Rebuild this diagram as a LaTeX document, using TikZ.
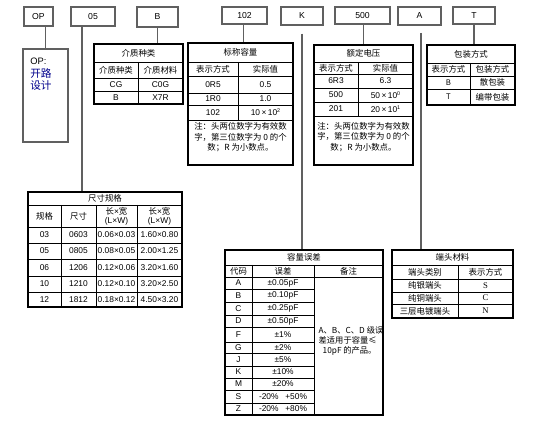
\documentclass[tikz,border=0pt]{standalone}
\usepackage{fontspec}
\setmainfont{Liberation Sans}
\newfontfamily\cjk{Noto Sans CJK SC}
\newfontfamily\serifr{Liberation Serif}
\usetikzlibrary{fit}
\newcommand\smallsup[1]{\raisebox{2.2pt}{\fontsize{4}{4}\selectfont #1}}
\begin{document}
\begin{tikzpicture}[x=0.75pt,y=-0.75pt,
  tf/.style={font=\fontsize{6.3}{7.9}\selectfont, inner sep=0pt},
  topbox/.style={draw=gray!75!black, line width=0.8pt, inner sep=0pt, font=\fontsize{6.5}{8}\selectfont},
  conn/.style={draw=gray!75!black, line width=0.9pt},
  tab/.style={draw=black, line width=0.9pt, inner sep=0pt},
  tl/.style={draw=black, line width=0.7pt},
  descbox/.style={draw=gray!75!black, line width=0.8pt, inner sep=0pt}]
\useasboundingbox (0,0) rectangle (539,427);
\fill[white] (0,0) rectangle (539,427);

% ---------- top code boxes ----------
\node[topbox, fit={(24,7)(53,26)}] (nOP) {};
\node[tf, font=\fontsize{6.5}{8}\selectfont] at (nOP.center) {OP};
\node[topbox, fit={(71,7)(115,26)}] (n05) {};
\node[tf, font=\fontsize{6.5}{8}\selectfont] at (n05.center) {05};
\node[topbox, fit={(137,7)(178,27)}] (nB) {};
\node[tf, font=\fontsize{6.5}{8}\selectfont] at (nB.center) {B};
\node[topbox, fit={(222,7)(267,24)}] (n102) {};
\node[tf, font=\fontsize{6.5}{8}\selectfont] at (n102.center) {102};
\node[topbox, fit={(281,7)(323,25)}] (nK) {};
\node[tf, font=\fontsize{6.5}{8}\selectfont] at (nK.center) {K};
\node[topbox, fit={(335,7)(390,24)}] (n500) {};
\node[tf, font=\fontsize{6.5}{8}\selectfont] at (n500.center) {500};
\node[topbox, fit={(398,7)(441,25)}] (nA) {};
\node[tf, font=\fontsize{6.5}{8}\selectfont] at (nA.center) {A};
\node[topbox, fit={(453,7)(495,24)}] (nT) {};
\node[tf, font=\fontsize{6.5}{8}\selectfont] at (nT.center) {T};

% ---------- OP description ----------
\node[descbox, fit={(23,49)(68,142)}] (opd) {};
\node[tf, anchor=west, font=\fontsize{7}{8}\selectfont] at (30,61) {OP:};
\node[tf, anchor=west, text=blue!55!black, font=\cjk\fontsize{8}{9}\selectfont] at (30,73.5) {开路};
\node[tf, anchor=west, text=blue!55!black, font=\cjk\fontsize{8}{9}\selectfont] at (30,85.5) {设计};

% ---------- tables (outer boxes) ----------
\node[tab, fit={(94,44)(183,104)}] (t1) {};
\node[tab, fit={(188,43)(293,165)}] (t2) {};
\node[tab, fit={(314,45)(413,165)}] (t3) {};
\node[tab, fit={(427,45)(515,105)}] (t4) {};
\node[tab, fit={(28,192)(182,307)}] (t5) {};
\node[tab, fit={(225,250)(383,415)}] (t6) {};
\node[tab, fit={(392,250)(513,318)}] (t7) {};

% ---------- connectors ----------
\coordinate (x05) at (82,0);
\coordinate (kstart) at ([yshift=-6pt]nK.south);
\coordinate (astart) at (421,33);
\draw[conn] (nOP.south -| opd.north) -- (opd.north);
\draw[conn] (n05.south -| x05) -- (t5.north -| x05);
\draw[conn] (nB.south) -- (nB.south |- t1.north);
\draw[conn] ([xshift=-1pt]n102.south) -- ([xshift=-1pt]n102.south |- t2.north);
\draw[conn] (kstart) -- (kstart |- t6.north);
\draw[conn] ([xshift=1pt]n500.south) -- ([xshift=1pt]n500.south |- t3.north);
\draw[conn] (astart) -- (astart |- t7.north);
\draw[conn] (nT.south) -- (nT.south |- t4.north);

% ---------- table 1: 介质种类 ----------
\foreach \y in {62,78,91} \draw[tl] (94,\y) -- (183,\y);
\draw[tl] (138,62) -- (138,104);
\node[tf, font=\cjk\fontsize{6.3}{7.9}\selectfont] at (138.5,53) {介质种类};
\node[tf, font=\cjk\fontsize{6.3}{7.9}\selectfont] at (116,70) {介质种类};
\node[tf, font=\cjk\fontsize{6.3}{7.9}\selectfont] at (160.5,70) {介质材料};
\node[tf] at (116,84.5) {CG};
\node[tf] at (160.5,84.5) {C0G};
\node[tf] at (116,97.5) {B};
\node[tf] at (160.5,97.5) {X7R};

% ---------- table 2: 标称容量 ----------
\foreach \y in {62,76,93,105,120} \draw[tl] (188,\y) -- (293,\y);
\draw[tl] (238,62) -- (238,120);
\node[tf, font=\cjk\fontsize{6.3}{7.9}\selectfont] at (240.5,52.5) {标称容量};
\node[tf, font=\cjk\fontsize{6.3}{7.9}\selectfont] at (213,69) {表示方式};
\node[tf, font=\cjk\fontsize{6.3}{7.9}\selectfont] at (265.5,69) {实际值};
\node[tf] at (213,84.5) {0R5};
\node[tf] at (265.5,84.5) {0.5};
\node[tf] at (213,99) {1R0};
\node[tf] at (265.5,99) {1.0};
\node[tf] at (213,112.5) {102};
\node[tf] at (265.5,112.5) {10\,×\,10\smallsup{2}};
\node[tf, align=center, font=\cjk\fontsize{6.3}{7.9}\selectfont] at (240.5,137.5)
  {注：头两位数字为有效数\\字，第三位数字为 0 的个\\数；R 为小数点。};

% ---------- table 3: 额定电压 ----------
\foreach \y in {62,74,88,102,116} \draw[tl] (314,\y) -- (413,\y);
\draw[tl] (358,62) -- (358,116);
\node[tf, font=\cjk\fontsize{6.3}{7.9}\selectfont] at (363.5,53.5) {额定电压};
\node[tf, font=\cjk\fontsize{6.3}{7.9}\selectfont] at (336,68) {表示方式};
\node[tf, font=\cjk\fontsize{6.3}{7.9}\selectfont] at (385.5,68) {实际值};
\node[tf] at (336,81) {6R3};
\node[tf] at (385.5,81) {6.3};
\node[tf] at (336,95) {500};
\node[tf] at (385.5,95) {50\,×\,10\smallsup{0}};
\node[tf] at (336,109) {201};
\node[tf] at (385.5,109) {20\,×\,10\smallsup{1}};
\node[tf, align=center, font=\cjk\fontsize{6.3}{7.9}\selectfont] at (363.5,137)
  {注：头两位数字为有效数\\字，第三位数字为 0 的个\\数；R 为小数点。};

% ---------- table 4: 包装方式 ----------
\foreach \y in {63,76,89} \draw[tl] (427,\y) -- (515,\y);
\draw[tl] (470,63) -- (470,105);
\node[tf, font=\cjk\fontsize{6.3}{7.9}\selectfont] at (471,54) {包装方式};
\node[tf, font=\cjk\fontsize{6.3}{7.9}\selectfont] at (448.5,69.5) {表示方式};
\node[tf, font=\cjk\fontsize{6.3}{7.9}\selectfont] at (492.5,69.5) {包装方式};
\node[tf, font=\cjk\fontsize{5.8}{7}\selectfont] at (448.5,82.5) {B};
\node[tf, font=\cjk\fontsize{6.3}{7.9}\selectfont] at (492.5,82.5) {散包装};
\node[tf, font=\cjk\fontsize{5.8}{7}\selectfont] at (448.5,97) {T};
\node[tf, font=\cjk\fontsize{6.3}{7.9}\selectfont] at (492.5,97) {编带包装};

% ---------- table 5: 尺寸规格 ----------
\foreach \y in {205,227,243,259,276,292} \draw[tl] (28,\y) -- (182,\y);
\foreach \x in {61,96,137} \draw[tl] (\x,205) -- (\x,307);
\node[tf, font=\cjk\fontsize{6.3}{7.9}\selectfont] at (105,198.5) {尺寸规格};
\node[tf, font=\cjk\fontsize{6.3}{7.9}\selectfont] at (44.5,216) {规格};
\node[tf, font=\cjk\fontsize{6.3}{7.9}\selectfont] at (78.5,216) {尺寸};
\node[tf, align=center, font=\fontsize{6.3}{7}\selectfont] at (116.5,216) {{\cjk 长}×{\cjk 宽}\\(L×W)};
\node[tf, align=center, font=\fontsize{6.3}{7}\selectfont] at (159.5,216) {{\cjk 长}×{\cjk 宽}\\(L×W)};
\foreach \y/\a/\b/\c/\d in {235/03/0603/0.06×0.03/1.60×0.80,
                            251/05/0805/0.08×0.05/2.00×1.25,
                            267.5/06/1206/0.12×0.06/3.20×1.60,
                            284/10/1210/0.12×0.10/3.20×2.50,
                            299.5/12/1812/0.18×0.12/4.50×3.20}{
  \node[tf] at (44.5,\y) {\a};
  \node[tf] at (78.5,\y) {\b};
  \node[tf] at (116.5,\y) {\c};
  \node[tf] at (159.5,\y) {\d};
}

% ---------- table 6: 容量误差 ----------
\draw[tl] (225,265) -- (383,265);
\draw[tl] (225,277) -- (383,277);
\foreach \y in {289,302,315,327,342,353,366,378,390,403} \draw[tl] (225,\y) -- (314,\y);
\draw[tl] (252,265) -- (252,415);
\draw[tl] (314,265) -- (314,415);
\node[tf, font=\cjk\fontsize{6.3}{7.9}\selectfont] at (304,257.5) {容量误差};
\node[tf, font=\cjk\fontsize{6.3}{7.9}\selectfont] at (238.5,271) {代码};
\node[tf, font=\cjk\fontsize{6.3}{7.9}\selectfont] at (283,271) {误差};
\node[tf, font=\cjk\fontsize{6.3}{7.9}\selectfont] at (348.5,271) {备注};
\foreach \y/\a/\b in {283/A/±0.05pF, 295.5/B/±0.10pF, 308.5/C/±0.25pF, 321/D/±0.50pF,
                      334.5/F/±1\%, 347.5/G/±2\%, 359.5/J/±5\%, 372/K/±10\%, 384/M/±20\%}{
  \node[tf] at (238.5,\y) {\a};
  \node[tf] at (283,\y) {\b};
}
\node[tf] at (238.5,396.5) {S};
\node[tf] at (283,396.5) {-20\%\hspace{5pt}+50\%};
\node[tf] at (238.5,409) {Z};
\node[tf] at (283,409) {-20\%\hspace{5pt}+80\%};
\node[tf, align=left, font=\cjk\fontsize{6.2}{7.6}\selectfont] at (351,341)
  {A、B、C、D 级误\\差适用于容量≤\\\hspace{3pt}10pF 的产品。};

% ---------- table 7: 端头材料 ----------
\foreach \y in {265,279,292,304} \draw[tl] (392,\y) -- (513,\y);
\draw[tl] (458,265) -- (458,318);
\node[tf, font=\cjk\fontsize{6.3}{7.9}\selectfont] at (452.5,257.5) {端头材料};
\node[tf, font=\cjk\fontsize{6.3}{7.9}\selectfont] at (425,272) {端头类别};
\node[tf, font=\cjk\fontsize{6.3}{7.9}\selectfont] at (485.5,272) {表示方式};
\node[tf, font=\cjk\fontsize{6.3}{7.9}\selectfont] at (425,285.5) {纯银端头};
\node[tf, font=\serifr\fontsize{6.5}{7.9}\selectfont] at (485.5,285.5) {S};
\node[tf, font=\cjk\fontsize{6.3}{7.9}\selectfont] at (425,298) {纯铜端头};
\node[tf, font=\serifr\fontsize{6.5}{7.9}\selectfont] at (485.5,298) {C};
\node[tf, font=\cjk\fontsize{6.3}{7.9}\selectfont] at (425,311) {三层电镀端头};
\node[tf, font=\serifr\fontsize{6.5}{7.9}\selectfont] at (485.5,311) {N};
\end{tikzpicture}
\end{document}
